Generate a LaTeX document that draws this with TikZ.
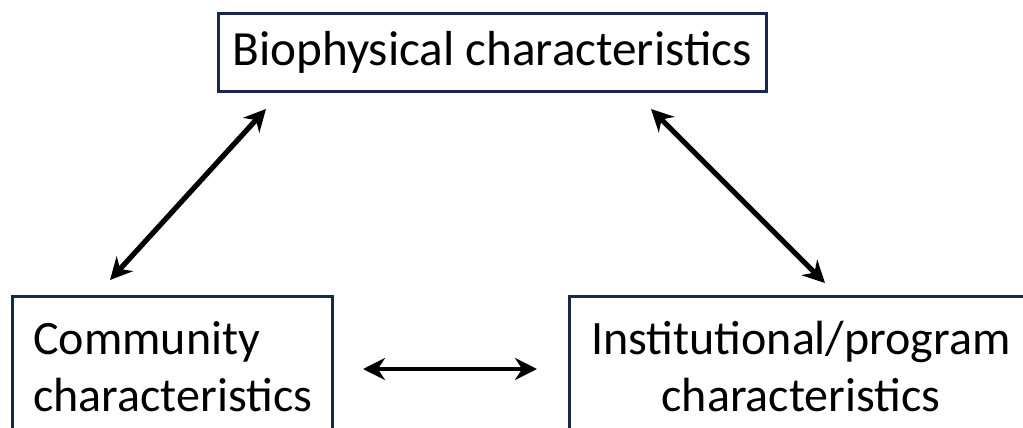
\documentclass[tikz,border=0pt]{standalone}
\usepackage{fontspec}
\setmainfont{Carlito}
\usetikzlibrary{arrows.meta, positioning}
\definecolor{boxnavy}{HTML}{17294A}

\tikzset{
  panel/.style={draw=boxnavy, line width=1.5pt, rectangle, inner sep=0pt},
  label/.style={font=\fontsize{24}{28.5}\selectfont, inner sep=0pt},
  link/.style={line width=2.6pt, {Stealth[length=11pt, width=11pt]}-{Stealth[length=11pt, width=11pt]}},
}

\begin{document}
\begin{tikzpicture}[x=0.5pt, y=-0.5pt]
  \useasboundingbox (0,0) rectangle (1023,428);
  \clip (0,0) rectangle (1023,428);

  % boxes
  \node[panel, minimum width=274pt, minimum height=39pt] (bio) at (492,52) {};
  \node[panel, minimum width=160pt, minimum height=92pt] (comm) at (172,388) {};
  \node[panel, minimum width=236pt, minimum height=92pt] (inst) at (805,388) {};

  % texts
  \node[label, font=\fontsize{24.6}{28.5}\selectfont] (biotxt) at (bio.center) {Biophysical characteristics};
  \node[label, anchor=west, align=left] (commtxt) at (33,367) {Community\\characteristics};
  \node[label, align=center] (insttxt) at (801,367) {Institutional/program\\characteristics};

  % arrow ends
  \coordinate (lb) at (110,280);
  \coordinate (lt) at (266,109);
  \coordinate (rt) at (651,109);
  \coordinate (rb) at (825,283);
  \coordinate (hl) at (363,369);
  \coordinate (hr) at (537,369);

  \draw[link] (lb) -- (lt);
  \draw[link] (rt) -- (rb);
  \draw[link, line width=2.2pt] (hl) -- (hr);
\end{tikzpicture}
\end{document}
